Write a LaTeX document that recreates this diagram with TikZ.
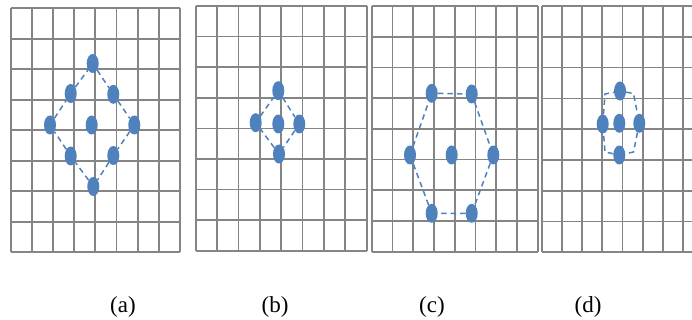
\documentclass[tikz,border=0pt]{standalone}
\usepackage{fontspec}
\setmainfont{Liberation Serif}
\usetikzlibrary{shapes.geometric}
\definecolor{dotblue}{HTML}{4F81BD}
\definecolor{gridgray}{HTML}{858585}
\newcommand\panelgrid[4]{%
  \foreach \i in {0,...,8}{%
    \draw[gridline] ({#1+\i*#3},#2) -- ({#1+\i*#3},{#2+8*#4});
    \draw[gridline] (#1,{#2+\i*#4}) -- ({#1+8*#3},{#2+\i*#4});
  }}
\begin{document}
\begin{tikzpicture}[x=1pt,y=-1pt,
  gridline/.style={draw=gridgray,line width=1.7pt},
  dot/.style={ellipse,fill=dotblue,draw=none,minimum width=12pt,minimum height=19pt,inner sep=0pt},
  dashline/.style={draw=dotblue,line width=1.5pt,dash pattern=on 5.5pt off 4pt},
  lab/.style={font=\fontsize{23}{27}\selectfont,inner sep=0pt}]
\useasboundingbox (0,0) rectangle (692,320);
\clip (0,0) rectangle (692,320);
\fill[white] (0,0) rectangle (692,320);
% grids
\panelgrid{10.7}{8.3}{21.16}{30.5}
\panelgrid{195.7}{6}{21.375}{30.59}
\panelgrid{371.7}{6}{20.75}{30.71}
\panelgrid{541.7}{6}{20.2}{30.79}
% (a)
\node[dot] (a1) at (92.7,63.5) {};
\node[dot] (a2) at (113.3,94.3) {};
\node[dot] (a3) at (134.3,125) {};
\node[dot] (a4) at (113.3,155.5) {};
\node[dot] (a5) at (93.3,186.5) {};
\node[dot] (a6) at (70.7,156) {};
\node[dot] (a7) at (50,125) {};
\node[dot] (a8) at (70.7,93.5) {};
\node[dot] (a0) at (91.7,125) {};
\draw[dashline] (a1) -- (a2) -- (a3) -- (a4) -- (a5) -- (a6) -- (a7) -- (a8) -- (a1);
% (b)
\node[dot] (b1) at (278.3,90.7) {};
\node[dot] (b2) at (299.3,124) {};
\node[dot] (b3) at (279,154) {};
\node[dot] (b4) at (255.7,122.7) {};
\node[dot] (b0) at (278.3,124) {};
\draw[dashline] (b1) -- (b2) -- (b3) -- (b4) -- (b1);
% (c)
\node[dot] (c1) at (431.7,93.3) {};
\node[dot] (c2) at (471.7,94) {};
\node[dot] (c3) at (493.3,155) {};
\node[dot] (c4) at (471.7,213.3) {};
\node[dot] (c5) at (431.7,213.3) {};
\node[dot] (c6) at (410,155) {};
\node[dot] (c0) at (451.7,155) {};
\draw[dashline] (c1) -- (c2) -- (c3) -- (c4) -- (c5) -- (c6) -- (c1);
% (d)
\node[dot] (d1) at (620,91) {};
\node[dot] (d2) at (639.3,123.3) {};
\node[dot] (d3) at (619.3,155) {};
\node[dot] (d4) at (602.7,124) {};
\node[dot] (d0) at (619.3,123.3) {};
\coordinate (dk1) at (633.5,93.5);
\coordinate (dk2) at (633.5,152);
\coordinate (dk3) at (605,152);
\coordinate (dk4) at (605,94);
\draw[dashline] (d1) -- (dk1) -- (d2) -- (dk2) -- (d3) -- (dk3) -- (d4) -- (dk4) -- (d1);
% labels
\node[lab] (la) at (123,307) {(a)};
\node[lab] (lb) at (275,307) {(b)};
\node[lab] (lc) at (432,307) {(c)};
\node[lab] (ld) at (588,307) {(d)};
\end{tikzpicture}
\end{document}
